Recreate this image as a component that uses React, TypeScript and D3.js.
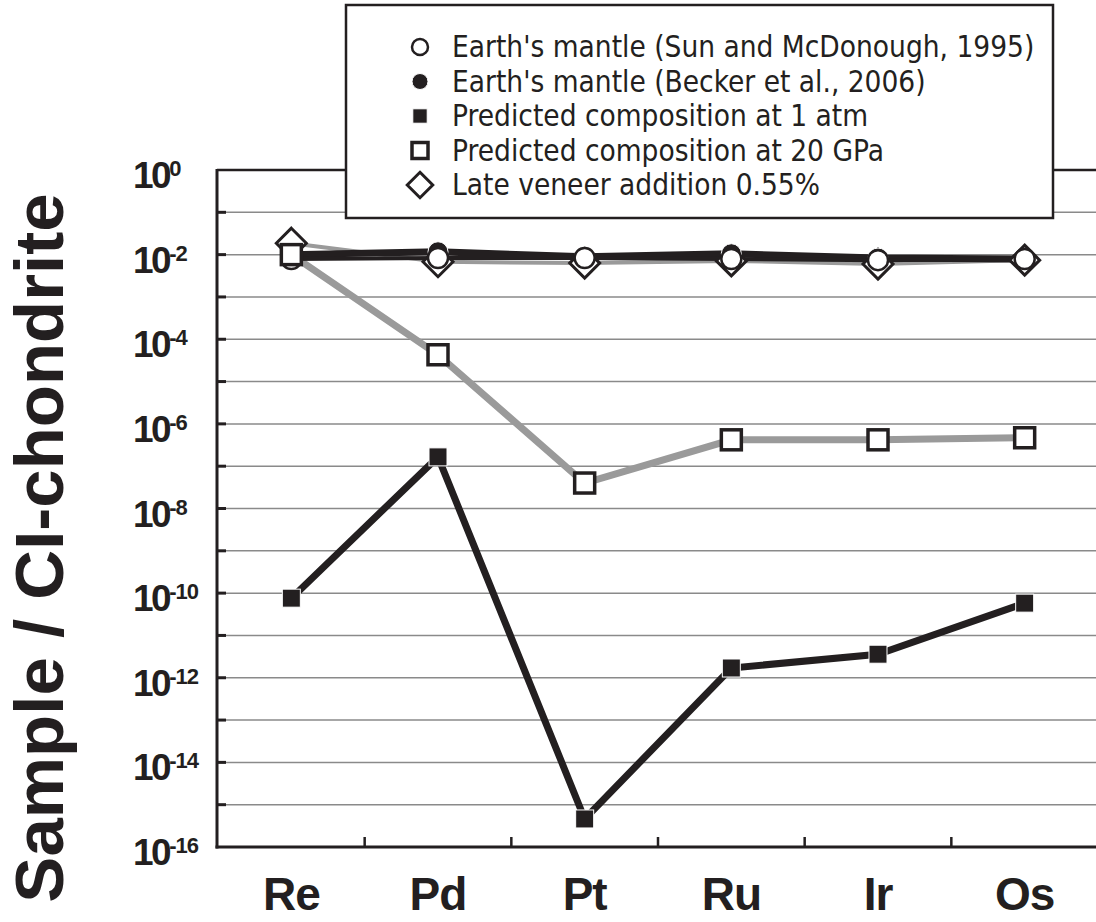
import React from 'react';
import * as d3 from 'd3';

// Element categories on the x axis
const elements = ['Re', 'Pd', 'Pt', 'Ru', 'Ir', 'Os'];

// Sample / CI-chondrite ratios
const sunMcDonough = [7.9e-3, 8.3e-3, 8.3e-3, 7.9e-3, 7.4e-3, 7.9e-3];
const becker = [1.0e-2, 1.17e-2, 8.9e-3, 1.05e-2, 8.3e-3, 7.9e-3];
const veneer = [1.86e-2, 6.8e-3, 6.3e-3, 7.1e-3, 6.0e-3, 7.4e-3];
const gpa20 = [1.0e-2, 4.3e-5, 4.0e-8, 4.2e-7, 4.2e-7, 4.7e-7];
const atm1 = [7.6e-11, 1.66e-7, 4.6e-16, 1.7e-12, 3.6e-12, 5.8e-11];

const yTickExps = d3.range(-16, 1); // every decade gets a grid line
const yLabelExps = [0, -2, -4, -6, -8, -10, -12, -14, -16];

const legendLabels = [
  "Earth's mantle (Sun and McDonough, 1995)",
  "Earth's mantle (Becker et al., 2006)",
  'Predicted composition at 1 atm',
  'Predicted composition at 20 GPa',
  'Late veneer addition 0.55%',
];

const INK = '#231f20';
const GREY = '#9a9a9a';

type Marker = 'openCircle' | 'filledCircle' | 'filledSquare' | 'openSquare' | 'diamond';

function Symbol({ type, x, y, s = 1 }: { type: Marker; x: number; y: number; s?: number }) {
  switch (type) {
    case 'openCircle':
      return <circle cx={x} cy={y} r={10 * s} fill="white" stroke={INK} strokeWidth={2.5} />;
    case 'filledCircle':
      return <circle cx={x} cy={y} r={10 * s} fill={INK} stroke="white" strokeWidth={1} />;
    case 'filledSquare':
      return <rect x={x - 9 * s} y={y - 9 * s} width={18 * s} height={18 * s} fill={INK} stroke="white" strokeWidth={1} />;
    case 'openSquare':
      return <rect x={x - 10 * s} y={y - 10 * s} width={20 * s} height={20 * s} fill="white" stroke={INK} strokeWidth={3.5} />;
    case 'diamond': {
      const h = 15 * s;
      return (
        <path
          d={`M${x},${y - h}L${x + h},${y}L${x},${y + h}L${x - h},${y}Z`}
          fill="white"
          stroke={INK}
          strokeWidth={3}
        />
      );
    }
  }
}

export default function App() {
  const W = 1096;
  const H = 922;
  const left = 217;
  const right = 1096;
  const top = 170;
  const bottom = 847;

  const x = d3.scaleBand<string>().domain(elements).range([218, 1098]);
  const y = d3.scaleLog().domain([1e-16, 1]).range([bottom, top]);
  const cx = (e: string) => (x(e) as number) + x.bandwidth() / 2;

  const line = d3
    .line<number>()
    .x((_, i) => cx(elements[i]))
    .y((d) => y(d));

  const bandEdges = elements.slice(1).map((e) => x(e) as number);

  const legendItems: Marker[] = ['openCircle', 'filledCircle', 'filledSquare', 'openSquare', 'diamond'];
  const legendRowY = (i: number) => 47 + i * 34.5;

  return (
    <div style={{ position: 'absolute', left: 0, top: 0 }}>
      <svg width={W} height={H} style={{ display: 'block', background: 'white' }}>
        {/* grid lines */}
        {yTickExps
          .filter((e) => e > -16 && e < 0)
          .map((e) => (
            <line key={e} x1={left} x2={right} y1={y(10 ** e)} y2={y(10 ** e)} stroke="#8a8a8a" strokeWidth={1.5} />
          ))}
        <line x1={left} x2={right} y1={top} y2={top} stroke={INK} strokeWidth={2.5} />

        {/* series lines */}
        <path d={line(gpa20) || ''} fill="none" stroke={GREY} strokeWidth={7} />
        <path d={line(atm1) || ''} fill="none" stroke={INK} strokeWidth={7} />
        <path d={line(veneer) || ''} fill="none" stroke={GREY} strokeWidth={4} />
        <path d={line(becker) || ''} fill="none" stroke={INK} strokeWidth={7} />
        <path d={line(sunMcDonough) || ''} fill="none" stroke={INK} strokeWidth={4} />

        {/* markers */}
        {veneer.map((v, i) => <Symbol key={'d' + i} type="diamond" x={cx(elements[i])} y={y(v)} />)}
        {becker.map((v, i) => <Symbol key={'b' + i} type="filledCircle" x={cx(elements[i])} y={y(v)} />)}
        {sunMcDonough.map((v, i) => <Symbol key={'s' + i} type="openCircle" x={cx(elements[i])} y={y(v)} />)}
        {gpa20.map((v, i) => <Symbol key={'g' + i} type="openSquare" x={cx(elements[i])} y={y(v)} />)}
        {atm1.map((v, i) => <Symbol key={'a' + i} type="filledSquare" x={cx(elements[i])} y={y(v)} />)}

        {/* axes */}
        <line x1={left} x2={left} y1={top - 1} y2={bottom + 1.5} stroke={INK} strokeWidth={3} />
        <line x1={left - 1.5} x2={right} y1={bottom} y2={bottom} stroke={INK} strokeWidth={3} />
        {yTickExps
          .filter((e) => e > -16 && e < 0)
          .map((e) => (
            <line key={'t' + e} x1={left} x2={left + 9} y1={y(10 ** e)} y2={y(10 ** e)} stroke={INK} strokeWidth={3} />
          ))}
        {bandEdges.map((bx, i) => (
          <line key={'bt' + i} x1={bx} x2={bx} y1={bottom} y2={bottom - 10} stroke={INK} strokeWidth={2.5} />
        ))}

        {/* y tick labels */}
        <g fontFamily="'Liberation Sans', Arial, sans-serif" fontWeight="bold" fill={INK}>
          {yLabelExps.map((e) => (
            <text key={'yl' + e} x={133} y={y(10 ** e) + 18} fontSize={37} letterSpacing={-2.5}>
              10
              <tspan fontSize={22} dy={-12} letterSpacing={-1}>
                {String(e)}
              </tspan>
            </text>
          ))}
        </g>

        {/* x labels */}
        <g fontFamily="'Liberation Sans', Arial, sans-serif" fontWeight="bold" fill={INK}>
          {elements.map((e) => (
            <text key={'xl' + e} x={cx(e)} y={910} fontSize={46} textAnchor="middle" letterSpacing={-1}>
              {e}
            </text>
          ))}
        </g>

        {/* y axis title */}
        <text
          transform="translate(63,548) rotate(-90)"
          textAnchor="middle"
          fontFamily="'Liberation Sans', Arial, sans-serif"
          fontWeight="bold"
          fontSize={69}
          letterSpacing={0}
          fill={INK}
        >
          Sample / CI-chondrite
        </text>

        {/* legend */}
        <rect x={346} y={5} width={707} height={213} fill="white" stroke={INK} strokeWidth={2.5} />
        {legendItems.map((m, i) => (
          <g key={'lg' + i}>
            <Symbol type={m} x={420} y={legendRowY(i)} s={m === 'diamond' ? 0.85 : 0.8} />
            <text
              x={452}
              y={legendRowY(i) + 10}
              fontFamily="'Liberation Sans Narrow', 'DejaVu Sans Condensed', sans-serif"
              fontSize={29.5}
              fill={INK}
            >
              {legendLabels[i]}
            </text>
          </g>
        ))}
      </svg>
    </div>
  );
}
